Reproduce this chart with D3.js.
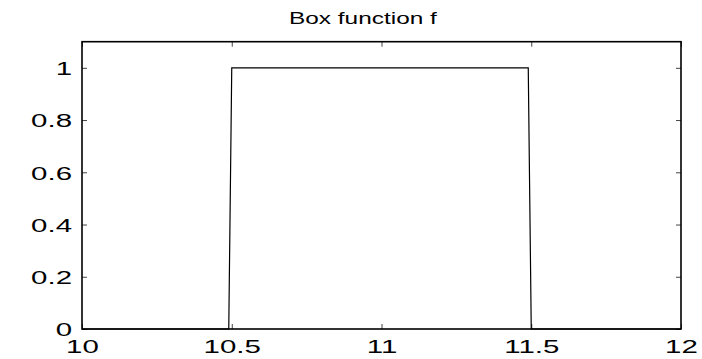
<!DOCTYPE html>
<html>
<head>
<meta charset="utf-8">
<script src="https://cdn.jsdelivr.net/npm/d3@7"></script>
<style>
  html, body { margin: 0; padding: 0; background: #fff; }
  svg { display: block; }
  text { font-family: "Liberation Sans", Arial, Helvetica, sans-serif; fill: #000; }
</style>
</head>
<body>
<script>
// Breakpoints of the box function f on the sampled grid (step 0.01)
const xs = [10, 10.49, 10.5, 11.49, 11.5, 12];
const ys = [0, 0, 1, 1, 0, 0];
const xTicks = [10, 10.5, 11, 11.5, 12];
const yTicks = [0, 0.2, 0.4, 0.6, 0.8, 1];
const xTickLabels = ["10", "10.5", "11", "11.5", "12"];
const yTickLabels = ["0", "0.2", "0.4", "0.6", "0.8", "1"];
const titleText = "Box function f";

const W = 702, H = 359;
const plotLeft = 82, plotRight = 681, plotTop = 41.7, plotBottom = 329;
const stretch = 1.55;      // wide lettering of the axis labels
const titleStretch = 1.48;

const svg = d3.select("body").append("svg").attr("width", W).attr("height", H);

const x = d3.scaleLinear().domain([10, 12]).range([plotLeft, plotRight]);
const y = d3.scaleLinear().domain([0, 1.1]).range([plotBottom, plotTop]);

const tickLen = 5;

// bottom axis with labels
const gx = svg.append("g").attr("transform", `translate(0,${plotBottom})`)
  .call(d3.axisBottom(x).tickValues(xTicks).tickSize(-tickLen)
        .tickFormat((d, i) => xTickLabels[i]));
gx.selectAll("text")
  .attr("y", 24).attr("dy", 0)
  .attr("transform", `scale(${stretch},1)`)
  .style("font-size", "19px");

// left axis with labels
const gy = svg.append("g").attr("transform", `translate(${plotLeft},0)`)
  .call(d3.axisLeft(y).tickValues(yTicks).tickSize(-tickLen)
        .tickFormat((d, i) => yTickLabels[i]));
gy.selectAll("text")
  .attr("x", -10 / stretch).attr("dy", "0.36em")
  .attr("transform", `scale(${stretch},1)`)
  .style("font-size", "19px");

// mirrored ticks on top and right
svg.append("g").attr("transform", `translate(0,${plotTop})`)
  .call(d3.axisTop(x).tickValues(xTicks).tickSize(-tickLen).tickFormat(""));
svg.append("g").attr("transform", `translate(${plotRight},0)`)
  .call(d3.axisRight(y).tickValues(yTicks).tickSize(-tickLen).tickFormat(""));

svg.selectAll(".domain").remove();
svg.selectAll(".tick line").attr("stroke", "#444").attr("stroke-width", 1);

// the function curve
const line = d3.line().x((d, i) => x(xs[i])).y(d => y(d));
svg.append("path")
  .datum(ys)
  .attr("d", line)
  .attr("fill", "none")
  .attr("stroke", "#000")
  .attr("stroke-width", 1.2);

// axes box
svg.append("rect")
  .attr("x", plotLeft).attr("y", plotTop)
  .attr("width", plotRight - plotLeft).attr("height", plotBottom - plotTop)
  .attr("fill", "none").attr("stroke", "#000").attr("stroke-width", 1.6);

// title
svg.append("text")
  .attr("transform", `translate(289,23.7) scale(${titleStretch},1)`)
  .style("font-size", "16.5px")
  .text(titleText);
</script>
</body>
</html>
